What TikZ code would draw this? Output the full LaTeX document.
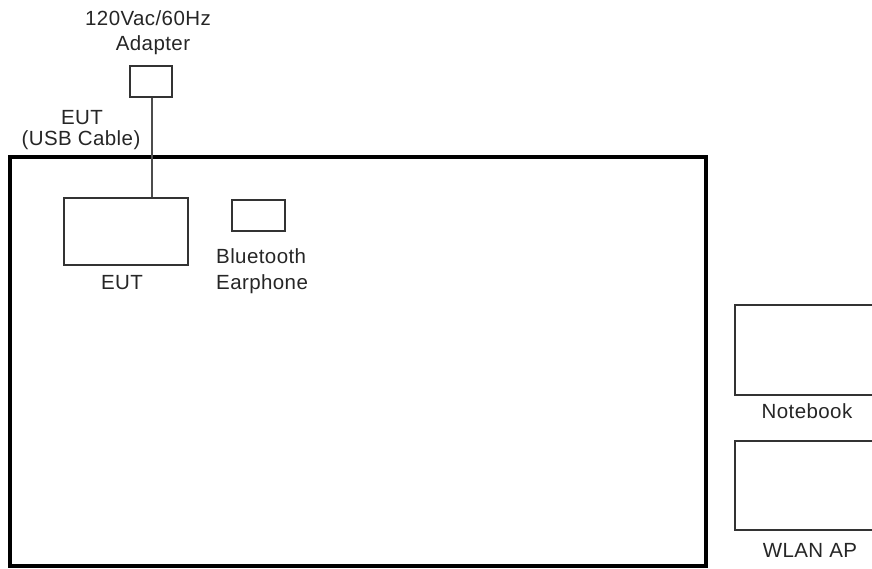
\documentclass[tikz,border=0pt]{standalone}
\usepackage{fontspec}
\setmainfont[LetterSpace=2]{Liberation Sans}
\begin{document}
\begin{tikzpicture}[x=1pt,y=-1pt,
  box/.style={draw=black!80,line width=1.6pt,inner sep=0pt,fill=white},
  lbl/.style={font=\fontsize{20.5}{25}\selectfont,text=black!85,align=center,inner sep=0pt},
  frame/.style={draw=black,line width=3.5pt},
  cable/.style={draw=black!70,line width=1.8pt}]
\useasboundingbox (0,0) rectangle (872,569);
\clip (0,0) rectangle (872,569);
\draw[frame] (10,157) rectangle (706,566);
\node[box,minimum width=42pt,minimum height=31pt] (adapter) at (151,81.5) {};
\node[box,minimum width=124pt,minimum height=67pt] (eut) at (126,231.5) {};
\node[box,minimum width=53pt,minimum height=31pt] (bt) at (258.5,215.5) {};
\node[box,minimum width=160pt,minimum height=90pt,anchor=north west] (nb) at (734,304) {};
\node[box,minimum width=160pt,minimum height=89pt,anchor=north west] (ap) at (734,440) {};
\draw[cable] (adapter.south -| 152,0) -- (eut.north -| 152,0);
\node[lbl] (t1) at (148,18) {120Vac/60Hz};
\node[lbl] (t2) at (153,45) {Adapter};
\node[lbl] (t3) at (82,118) {EUT};
\node[lbl] (t4) at (81,140) {(USB Cable)};
\node[lbl] (t5) at (122,283) {EUT};
\node[lbl,align=left,anchor=west] (t6) at (216,256) {Bluetooth};
\node[lbl,align=left,anchor=west] (t7) at (216,284) {Earphone};
\node[lbl] (t8) at (807,411) {Notebook};
\node[lbl] (t9) at (810,550) {WLAN AP};
\end{tikzpicture}
\end{document}
